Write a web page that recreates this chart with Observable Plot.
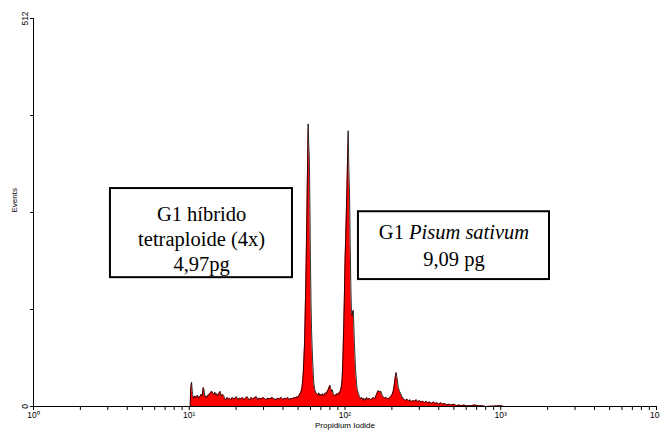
<!DOCTYPE html>
<html><head><meta charset="utf-8">
<script src="https://cdn.jsdelivr.net/npm/d3@7"></script>
<script src="https://cdn.jsdelivr.net/npm/@observablehq/plot@0.6"></script>
<style>body{margin:0;background:#fff;}</style>
</head><body><div id="chart"></div>
<script>
// Propidium iodide fluorescence (channel) and event counts
const channel = [10.15,10.2,10.35,10.5,10.7,10.9,11.1,11.3,11.5,11.7,11.9,12.1,12.3,12.45,12.6,12.8,13.0,13.2,13.4,13.6,13.8,14.0,14.2,14.4,14.6,14.8,15.0,15.2,15.4,15.6,15.8,16.0,16.3,16.6,16.9,17.2,17.5,17.8,18.1,18.5,18.9,19.3,19.7,20.1,20.5,21,21.5,22,22.5,23,23.5,24,24.5,25,25.5,26,27,27.5,28,29,30,31,32,33,34,35,36,37,38,39,40,41,42,43,44,45,46,47,48,49,50,51,52,53,54,55,56,56.5,57,57.5,58,58.5,59,59.5,60,60.5,61,62,63,64,65,66,67,68,69,70,71,72,73,74,75,76,77,78,79,80,81,82,83,84,85,86,87,88,89,90,91,92,93,94,95,96,97,98,99,100,101,102,103,104,104.8,105.5,106,107,108,109,110,111,112,113,114,115,116,117,118,119,120,122,124,126,128,130,132,134,136,138,140,143,146,149,152,155,158,161,164,167,170,173,176,180,184,188,192,196,200,204,207,210,213,215,217,220,224,228,232,236,240,245,250,256,262,268,274,280,287,294,301,308,316,324,332,340,350,360,370,380,390,400,412,425,438,450,465,480,500,520,540,560,580,600,640,680,720,760,800,1000,1050];
const events = [0,22,32,16,11,14,12,15,11,13,16,14,25,22,13,14,12,15,16,17,19,20,17,16,19,15,17,14,16,18,20,14,16,15,10,9,12,10,11,9,12,10,11,13,9,11,10,12,9,11,13,10,9,12,10,11,13,9,11,10,12,9,11,10,12,10,9,11,10,12,9,11,10,12,9,11,10,12,11,13,12,16,18,25,45,83,160,210,262,320,373,345,330,270,193,140,100,60,32,22,18,17,15,18,14,16,15,17,14,16,18,17,20,22,25,28,24,20,22,17,15,14,16,15,17,16,18,17,20,22,28,38,65,100,140,190,222,255,292,330,364,330,310,280,215,160,127,120,125,127,105,83,65,48,38,28,22,17,13,10,12,9,11,8,10,12,9,11,9,10,12,10,14,18,21,19,20,15,13,11,12,10,11,13,15,20,28,38,45,40,35,25,20,17,13,11,9,8,10,7,9,6,8,7,9,6,8,6,7,5,7,5,6,4,6,4,5,3,5,3,4,2,3,2,3,1,2,1,2,1,1,2,1,1,0,1,0];
const xTicks = [1,2,3,4,5,6,7,8,9,10,20,30,40,50,60,70,80,90,100,200,300,400,500,600,700,800,900,1000,2000,3000,4000,5000,6000,7000,8000,9000,10000];
const xTickLabels = {1:"10⁰",10:"10¹",100:"10²",1000:"10³",10000:"10⁴"};
const yTicks = [0,128,256,384,512];
const yTickLabels = {0:"0",512:"512"};
const xLabel = "Propidium Iodide";
const yLabel = "Events";
const box1Text = "G1 híbrido\ntetraploide (4x)\n4,97pg";
const box2Line1 = "G1 Pisum sativum";
const box2Line2 = "9,09 pg";

const data = channel.map((c, i) => ({c, n: events[i]}));
const serif = "'Liberation Serif','Times New Roman',serif";

const plot = Plot.plot({
  width: 660, height: 431,
  marginLeft: 33, marginRight: 4, marginTop: 18, marginBottom: 25,
  style: {fontFamily: "'Liberation Sans',Arial,sans-serif", fontSize: "8.5px", background: "#fff", overflow: "visible"},
  x: {type: "log", domain: [1, 10000]},
  y: {domain: [0, 512]},
  marks: [
    Plot.areaY(data, {x: "c", y: "n", fill: "#ff0000"}),
    Plot.lineY(data, {x: "c", y: "n", stroke: "#000", strokeWidth: 0.8}),
    Plot.ruleX([1], {stroke: "#000"}),
    Plot.ruleY([0], {stroke: "#000"}),
    Plot.axisX({ticks: xTicks, tickSize: 4, tickPadding: 1, tickFormat: d => xTickLabels[d] ?? "", label: null}),
    Plot.axisY({ticks: yTicks, tickSize: 3, tickPadding: 3, tickRotate: -90, tickFormat: d => yTickLabels[d] ?? "", label: null}),
    Plot.text([xLabel], {frameAnchor: "bottom", dy: 21, fontSize: 8}),
    Plot.text([yLabel], {frameAnchor: "left", dx: -19, rotate: -90, fontSize: 8}),
    Plot.rect([{x1: 3.12, x2: 46, y1: 170, y2: 287.6}], {x1: "x1", x2: "x2", y1: "y1", y2: "y2", fill: "#fff", stroke: "#000", strokeWidth: 2}),
    Plot.rect([{x1: 122, x2: 2056, y1: 167.5, y2: 257}], {x1: "x1", x2: "x2", y1: "y1", y2: "y2", fill: "#fff", stroke: "#000", strokeWidth: 2}),
    Plot.text([box1Text], {x: 12, y: 222, fontFamily: serif, fontSize: 20.5, lineHeight: 1.22, fill: "#000"}),
    Plot.text([box2Line1], {x: 501, y: 230, fontFamily: serif, fontSize: 20.5, fill: "#000"}),
    Plot.text([box2Line2], {x: 501, y: 194, fontFamily: serif, fontSize: 20.5, fill: "#000"})
  ]
});

d3.select(plot).selectAll("text").each(function() {
  if (this.textContent === box2Line1) {
    const t = d3.select(this);
    t.text(null);
    t.append("tspan").text("G1 ");
    t.append("tspan").attr("font-style", "italic").text("Pisum sativum");
  }
});
document.getElementById("chart").append(plot);
</script>
</body></html>
